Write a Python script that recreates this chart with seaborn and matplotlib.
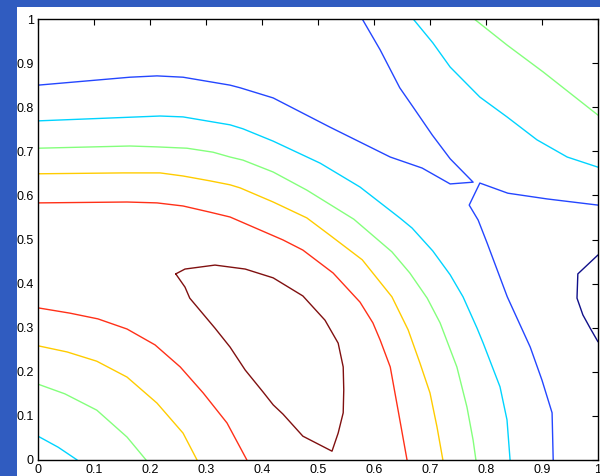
import matplotlib
matplotlib.use("Agg")
import matplotlib.pyplot as plt
import seaborn as sns
import pandas as pd
from matplotlib.patches import Rectangle

# ---- data: contour lines (x, y in data units) ----
level_names = ["L1", "L2", "L3", "L4", "L5", "L6", "L7"]
level_colors = ["#10108a", "#2446ff", "#00d4ff", "#84ff7c", "#ffcc00", "#ff3018", "#801010"]

darkblue_x = [1.0, 0.964, 0.9625, 0.973, 0.986, 1.0]
darkblue_y = [0.465, 0.422, 0.367, 0.329, 0.299, 0.268]

blue1_x = [0.0, 0.164, 0.2125, 0.259, 0.343, 0.361, 0.420, 0.521, 0.629, 0.686, 0.736, 0.777,
           0.736, 0.704, 0.670, 0.646, 0.611, 0.579]
blue1_y = [0.850, 0.868, 0.871, 0.868, 0.850, 0.844, 0.821, 0.755, 0.687, 0.662, 0.626, 0.630,
           0.683, 0.737, 0.800, 0.844, 0.930, 1.0]

blue2_x = [1.0, 0.909, 0.839, 0.789, 0.770, 0.786, 0.802, 0.838, 0.879, 0.900, 0.918, 0.920]
blue2_y = [0.578, 0.592, 0.605, 0.628, 0.578, 0.544, 0.492, 0.370, 0.256, 0.181, 0.107, 0.0]

cyan1_x = [0.0, 0.218, 0.259, 0.343, 0.366, 0.420, 0.504, 0.575, 0.646, 0.668, 0.705, 0.736,
           0.759, 0.784, 0.795, 0.825, 0.8375, 0.843]
cyan1_y = [0.769, 0.780, 0.778, 0.760, 0.751, 0.723, 0.673, 0.619, 0.549, 0.526, 0.474, 0.420,
           0.370, 0.299, 0.265, 0.166, 0.091, 0.0]

cyan2_x = [0.670, 0.705, 0.736, 0.789, 0.8375, 0.891, 0.945, 1.0]
cyan2_y = [1.0, 0.946, 0.891, 0.823, 0.778, 0.726, 0.687, 0.664]

cyan3_x = [0.0, 0.036, 0.070]
cyan3_y = [0.054, 0.029, 0.0]

green1_x = [0.0, 0.164, 0.2125, 0.266, 0.3125, 0.343, 0.366, 0.420, 0.480, 0.564, 0.632, 0.664,
            0.695, 0.718, 0.748, 0.766, 0.777, 0.782]
green1_y = [0.707, 0.712, 0.710, 0.707, 0.698, 0.687, 0.680, 0.653, 0.612, 0.546, 0.472, 0.424,
            0.367, 0.311, 0.211, 0.120, 0.045, 0.0]

green2_x = [0.779, 0.8375, 0.902, 0.950, 1.0]
green2_y = [1.0, 0.941, 0.880, 0.832, 0.782]

green3_x = [0.0, 0.048, 0.105, 0.159, 0.193]
green3_y = [0.172, 0.150, 0.113, 0.052, 0.0]

yellow1_x = [0.0, 0.152, 0.218, 0.259, 0.307, 0.343, 0.361, 0.420, 0.480, 0.521, 0.579, 0.632,
             0.661, 0.682, 0.700, 0.7125, 0.723]
yellow1_y = [0.649, 0.651, 0.651, 0.644, 0.633, 0.624, 0.617, 0.585, 0.549, 0.510, 0.454, 0.370,
             0.295, 0.220, 0.152, 0.075, 0.0]

yellow2_x = [0.0, 0.052, 0.105, 0.159, 0.2125, 0.259, 0.284]
yellow2_y = [0.259, 0.245, 0.224, 0.188, 0.129, 0.061, 0.0]

red1_x = [0.0, 0.159, 0.2125, 0.259, 0.307, 0.343, 0.4375, 0.473, 0.527, 0.575, 0.598, 0.611,
          0.629, 0.643, 0.659]
red1_y = [0.583, 0.585, 0.583, 0.576, 0.562, 0.551, 0.499, 0.476, 0.424, 0.358, 0.311, 0.272,
          0.211, 0.113, 0.0]

red2_x = [0.0, 0.057, 0.107, 0.159, 0.209, 0.254, 0.295, 0.3375, 0.373]
red2_y = [0.345, 0.333, 0.320, 0.297, 0.261, 0.211, 0.152, 0.084, 0.0]

darkred_x = [0.246, 0.2625, 0.316, 0.370, 0.420, 0.473, 0.5125, 0.536, 0.545, 0.546, 0.545,
             0.536, 0.525, 0.473, 0.4375, 0.420, 0.402, 0.370, 0.343, 0.316, 0.271, 0.2625, 0.246]
darkred_y = [0.422, 0.433, 0.442, 0.433, 0.413, 0.372, 0.317, 0.265, 0.211, 0.159, 0.107,
             0.061, 0.020, 0.054, 0.104, 0.125, 0.154, 0.204, 0.256, 0.299, 0.367, 0.392, 0.422]

tick_values = [0, 0.1, 0.2, 0.3, 0.4, 0.5, 0.6, 0.7, 0.8, 0.9, 1]
tick_labels = ["0", "0.1", "0.2", "0.3", "0.4", "0.5", "0.6", "0.7", "0.8", "0.9", "1"]

segments = [
    ("darkblue", "L1", darkblue_x, darkblue_y),
    ("blue1", "L2", blue1_x, blue1_y),
    ("blue2", "L2", blue2_x, blue2_y),
    ("cyan1", "L3", cyan1_x, cyan1_y),
    ("cyan2", "L3", cyan2_x, cyan2_y),
    ("cyan3", "L3", cyan3_x, cyan3_y),
    ("green1", "L4", green1_x, green1_y),
    ("green2", "L4", green2_x, green2_y),
    ("green3", "L4", green3_x, green3_y),
    ("yellow1", "L5", yellow1_x, yellow1_y),
    ("yellow2", "L5", yellow2_x, yellow2_y),
    ("red1", "L6", red1_x, red1_y),
    ("red2", "L6", red2_x, red2_y),
    ("darkred", "L7", darkred_x, darkred_y),
]

rows = []
for name, lvl, xs, ys in segments:
    for i, (xv, yv) in enumerate(zip(xs, ys)):
        rows.append({"seg": name, "level": lvl, "order": i, "x": xv, "y": yv})
df = pd.DataFrame(rows)

# ---- figure ----
sns.set_style("white")
plt.rcParams["font.family"] = ["Liberation Sans", "DejaVu Sans"]

fig = plt.figure(figsize=(6.0, 4.76), dpi=100)
fig.patch.set_facecolor("white")
# blue window frame strips (left and top)
fig.patches.append(Rectangle((0, 0), 17 / 600, 1, transform=fig.transFigure,
                             facecolor="#305cc0", edgecolor="none", zorder=-10))
fig.patches.append(Rectangle((0, 1 - 7 / 476), 1, 7 / 476, transform=fig.transFigure,
                             facecolor="#305cc0", edgecolor="none", zorder=-10))

ax = fig.add_axes([38 / 600, 16 / 476, 560 / 600, 441 / 476])
ax.set_facecolor("white")

sns.lineplot(data=df, x="x", y="y", hue="level", units="seg", estimator=None,
             sort=False, palette=dict(zip(level_names, level_colors)),
             hue_order=level_names, linewidth=1.0, legend=False, ax=ax)

ax.set_xlim(0, 1)
ax.set_ylim(0, 1)
ax.set_xlabel("")
ax.set_ylabel("")
ax.set_xticks(tick_values)
ax.set_xticklabels(tick_labels)
ax.set_yticks(tick_values)
ax.set_yticklabels(tick_labels)
ax.tick_params(direction="in", top=True, right=True, length=4, width=0.8,
               labelsize=9, pad=3, colors="black")
for sp in ax.spines.values():
    sp.set_visible(True)
    sp.set_color("black")
    sp.set_linewidth(1.0)

fig.savefig("out.png", dpi=100, facecolor="white")
